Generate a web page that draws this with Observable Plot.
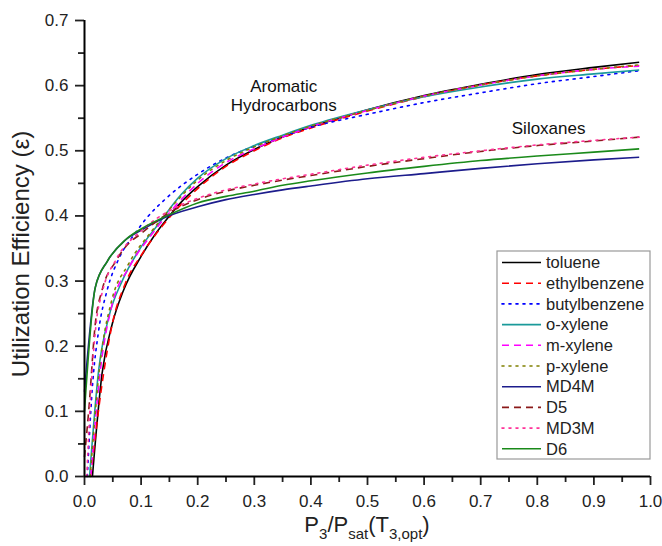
<!DOCTYPE html>
<html>
<head>
<meta charset="utf-8">
<script src="https://cdn.jsdelivr.net/npm/d3@7"></script>
<script src="https://cdn.jsdelivr.net/npm/@observablehq/plot@0.6"></script>
<style>
  html, body { margin: 0; padding: 0; background: #fff; }
  #chart { width: 662px; height: 546px; }
</style>
</head>
<body>
<div id="chart"></div>
<script>
// ---- Data ----
const seriesNames = ["toluene", "ethylbenzene", "butylbenzene", "o-xylene", "m-xylene", "p-xylene", "MD4M", "D5", "MD3M", "D6"];
const seriesColors = ["#000000", "#ff0000", "#0000ff", "#1a9a9a", "#ff00ff", "#808000", "#1c1c8c", "#8b1a1a", "#ff3399", "#1a8a1a"];
const seriesDash = ["none", "7,5", "2,5", "none", "7,5", "2,5", "none", "7,5", "2,5", "none"];

const toluene_x = [0.014, 0.031, 0.049, 0.069, 0.1, 0.125, 0.15, 0.175, 0.2, 0.25, 0.3, 0.35, 0.4, 0.45, 0.5, 0.6, 0.7, 0.8, 0.9, 0.98];
const toluene_y = [0.0, 0.158, 0.234, 0.286, 0.338, 0.372, 0.4, 0.425, 0.445, 0.478, 0.502, 0.521, 0.537, 0.55, 0.563, 0.585, 0.602, 0.617, 0.628, 0.636];

const ethylbenzene_x = [0.011, 0.031, 0.049, 0.072, 0.102, 0.137, 0.2, 0.25, 0.3, 0.35, 0.4, 0.5, 0.6, 0.7, 0.8, 0.9, 0.98];
const ethylbenzene_y = [0.0, 0.142, 0.234, 0.296, 0.342, 0.384, 0.442, 0.476, 0.5, 0.52, 0.535, 0.561, 0.583, 0.601, 0.615, 0.625, 0.631];

const butylbenzene_x = [0.005, 0.0135, 0.025, 0.04, 0.061, 0.09, 0.11, 0.143, 0.2, 0.25, 0.3, 0.35, 0.4, 0.5, 0.6, 0.7, 0.8, 0.9, 0.98];
const butylbenzene_y = [0.0, 0.132, 0.224, 0.286, 0.335, 0.374, 0.397, 0.426, 0.464, 0.489, 0.507, 0.522, 0.536, 0.556, 0.574, 0.589, 0.603, 0.614, 0.623];

const oxylene_x = [0.009, 0.025, 0.043, 0.067, 0.096, 0.131, 0.17, 0.2, 0.25, 0.3, 0.35, 0.4, 0.5, 0.6, 0.7, 0.8, 0.9, 0.98];
const oxylene_y = [0.0, 0.163, 0.245, 0.301, 0.347, 0.388, 0.432, 0.458, 0.488, 0.508, 0.524, 0.539, 0.563, 0.583, 0.598, 0.61, 0.618, 0.624];

const mxylene_x = [0.011, 0.028, 0.049, 0.078, 0.12, 0.155, 0.2, 0.25, 0.3, 0.35, 0.4, 0.5, 0.6, 0.7, 0.8, 0.9, 0.98];
const mxylene_y = [0.0, 0.163, 0.265, 0.32, 0.373, 0.41, 0.45, 0.482, 0.503, 0.521, 0.537, 0.562, 0.584, 0.601, 0.615, 0.625, 0.63];

const pxylene_x = [0.01, 0.027, 0.048, 0.077, 0.12, 0.155, 0.2, 0.25, 0.3, 0.35, 0.4, 0.5, 0.6, 0.7, 0.8, 0.9, 0.98];
const pxylene_y = [0.0, 0.17, 0.27, 0.325, 0.378, 0.415, 0.455, 0.485, 0.506, 0.523, 0.538, 0.562, 0.584, 0.601, 0.615, 0.625, 0.632];

const md4m_x = [0.0, 0.019, 0.04, 0.072, 0.1, 0.143, 0.2, 0.25, 0.3, 0.35, 0.4, 0.5, 0.6, 0.7, 0.8, 0.9, 0.98];
const md4m_y = [0.13, 0.29, 0.33, 0.363, 0.378, 0.398, 0.414, 0.425, 0.433, 0.44, 0.446, 0.457, 0.465, 0.473, 0.48, 0.486, 0.49];

const d5_x = [0.0, 0.008, 0.019, 0.031, 0.055, 0.072, 0.1, 0.15, 0.2, 0.25, 0.3, 0.35, 0.4, 0.5, 0.6, 0.7, 0.8, 0.9, 0.98];
const d5_y = [0.03, 0.107, 0.234, 0.286, 0.33, 0.352, 0.373, 0.405, 0.425, 0.438, 0.447, 0.455, 0.462, 0.476, 0.488, 0.499, 0.508, 0.515, 0.521];

const md3m_x = [0.004, 0.01, 0.02, 0.032, 0.055, 0.1, 0.15, 0.2, 0.25, 0.3, 0.35, 0.4, 0.5, 0.6, 0.7, 0.8, 0.9, 0.98];
const md3m_y = [0.0, 0.11, 0.23, 0.285, 0.332, 0.377, 0.408, 0.427, 0.44, 0.449, 0.457, 0.464, 0.478, 0.49, 0.5, 0.509, 0.516, 0.521];

const d6_x = [0.0, 0.019, 0.04, 0.072, 0.1, 0.15, 0.2, 0.25, 0.3, 0.35, 0.4, 0.5, 0.6, 0.7, 0.8, 0.9, 0.98];
const d6_y = [0.10, 0.29, 0.33, 0.363, 0.38, 0.402, 0.42, 0.43, 0.438, 0.447, 0.454, 0.466, 0.476, 0.485, 0.492, 0.498, 0.503];

const xTicks = [0.0, 0.1, 0.2, 0.3, 0.4, 0.5, 0.6, 0.7, 0.8, 0.9, 1.0];
const xMinorTicks = [0.05, 0.15, 0.25, 0.35, 0.45, 0.55, 0.65, 0.75, 0.85, 0.95];
const yTicks = [0.0, 0.1, 0.2, 0.3, 0.4, 0.5, 0.6, 0.7];
const yMinorTicks = [0.05, 0.15, 0.25, 0.35, 0.45, 0.55, 0.65];

const annotationText = ["Aromatic\nHydrocarbons", "Siloxanes"];
const annotationX = [0.352, 0.82];
const annotationY = [0.585, 0.535];

// ---- Build table ----
const seriesX = [toluene_x, ethylbenzene_x, butylbenzene_x, oxylene_x, mxylene_x, pxylene_x, md4m_x, d5_x, md3m_x, d6_x];
const seriesY = [toluene_y, ethylbenzene_y, butylbenzene_y, oxylene_y, mxylene_y, pxylene_y, md4m_y, d5_y, md3m_y, d6_y];
const tables = seriesNames.map((name, i) => seriesX[i].map((x, j) => ({series: name, x, y: seriesY[i][j]})));
const annotations = annotationText.map((t, i) => ({t, x: annotationX[i], y: annotationY[i]}));

const W = 662, H = 546;
const mLeft = 84, mRight = 12, mTop = 20, mBottom = 70;
const font = "'Liberation Sans', Arial, sans-serif";

const lineMarks = seriesNames.map((name, i) => Plot.line(tables[i], {
  x: "x", y: "y", stroke: seriesColors[i], strokeWidth: 1.6,
  strokeDasharray: seriesDash[i] === "none" ? null : seriesDash[i],
  strokeLinecap: seriesDash[i] === "2,5" ? "round" : "butt",
  curve: "monotone-x"
}));

const plot = Plot.plot({
  width: W, height: H,
  marginLeft: mLeft, marginRight: mRight, marginTop: mTop, marginBottom: mBottom,
  style: {fontFamily: font, fontSize: "17px", background: "#fff", color: "#222"},
  x: {domain: [0, 1]},
  y: {domain: [0, 0.7]},
  marks: [
    ...lineMarks,
    Plot.text(annotations, {x: "x", y: "y", text: "t", fontSize: 17, fill: "#111", lineHeight: 1.15}),
    Plot.axisX(xTicks, {tickSize: 9, tickPadding: 9, tickFormat: d3.format(".1f"), fontSize: 17, label: null, strokeWidth: 1.8}),
    Plot.axisX(xMinorTicks, {tickSize: 6, tickFormat: () => "", label: null, strokeWidth: 1.8}),
    Plot.axisY(yTicks, {tickSize: 9, tickPadding: 7, tickFormat: d3.format(".1f"), fontSize: 17, label: null, strokeWidth: 1.8}),
    Plot.axisY(yMinorTicks, {tickSize: 6, tickFormat: () => "", label: null, strokeWidth: 1.8}),
    Plot.ruleX([0], {stroke: "#000", strokeWidth: 2}),
    Plot.ruleY([0], {stroke: "#000", strokeWidth: 2})
  ]
});

document.getElementById("chart").appendChild(plot);

// ---- Axis titles and legend ----
const svg = d3.select(plot);
const xs = plot.scale("x"), ys = plot.scale("y");
const x0 = xs.apply(0), x1 = xs.apply(1), y0 = ys.apply(0), y1 = ys.apply(0.7);

svg.append("text")
  .attr("transform", `translate(29,${(y0 + y1) / 2 + 6}) rotate(-90)`)
  .attr("text-anchor", "middle")
  .attr("font-family", font).attr("font-size", 24).attr("fill", "#222")
  .text("Utilization Efficiency (ε)");

const xTitle = svg.append("text")
  .attr("x", (x0 + x1) / 2).attr("y", y0 + 56)
  .attr("text-anchor", "middle")
  .attr("font-family", font).attr("font-size", 22).attr("fill", "#222");
const parts = [["P", false], ["3", true], ["/P", false], ["sat", true], ["(T", false], ["3,opt", true], [")", false]];
let sub = false;
parts.forEach(([t, isSub]) => {
  const ts = xTitle.append("tspan").text(t);
  if (isSub) ts.attr("font-size", 15);
  if (isSub && !sub) ts.attr("dy", 7);
  else if (!isSub && sub) ts.attr("dy", -7);
  sub = isSub;
});

// legend
const lg = svg.append("g").attr("text-anchor", "start");
const boxLeft = 497, boxTop = 251, boxRight = x1, boxBottom = 459;
lg.append("rect").attr("x", boxLeft).attr("y", boxTop)
  .attr("width", boxRight - boxLeft).attr("height", boxBottom - boxTop)
  .attr("fill", "#fff").attr("stroke", "#999").attr("stroke-width", 1.2);
seriesNames.forEach((name, i) => {
  const cy = boxTop + 11.5 + i * 20.7;
  lg.append("line").attr("x1", 502).attr("x2", 541).attr("y1", cy).attr("y2", cy)
    .attr("stroke", seriesColors[i]).attr("stroke-width", 1.6)
    .attr("stroke-dasharray", seriesDash[i] === "none" ? null : seriesDash[i])
    .attr("stroke-linecap", seriesDash[i] === "2,5" ? "round" : "butt");
  lg.append("text").attr("x", 546).attr("y", cy).attr("dy", "0.35em")
    .attr("text-anchor", "start")
    .attr("font-family", font).attr("font-size", 16.5).attr("fill", "#222").text(name);
});
</script>
</body>
</html>
